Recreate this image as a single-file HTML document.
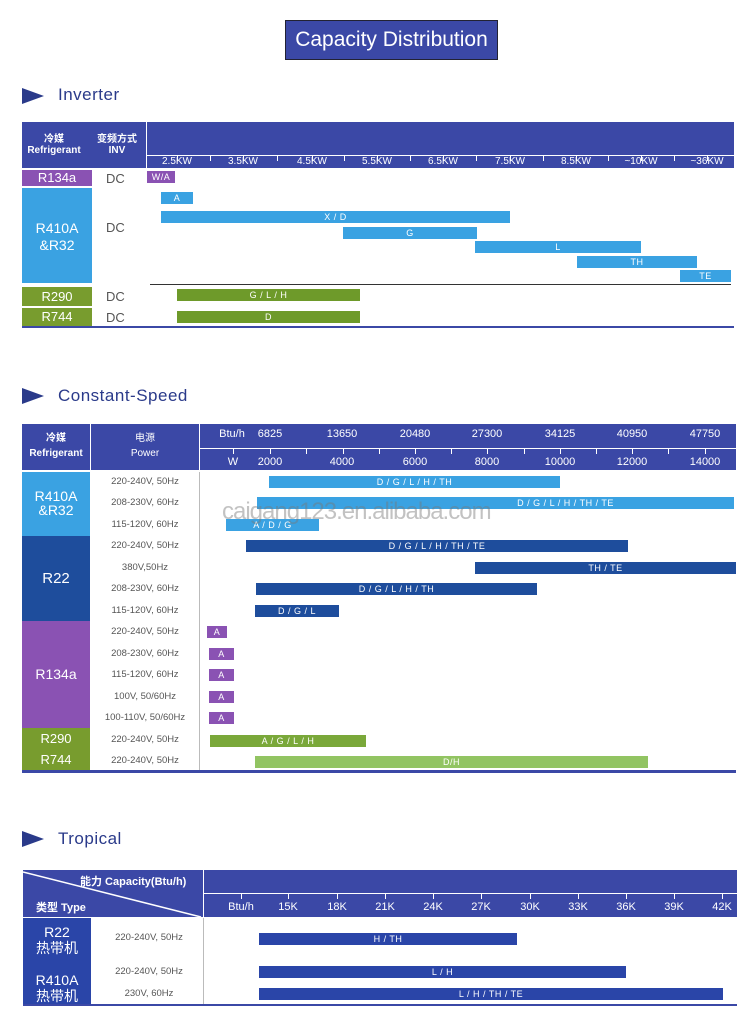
<!DOCTYPE html>
<html><head><meta charset="utf-8"><style>
body{margin:0;width:750px;height:1027px;background:#fff;position:relative;overflow:hidden;font-family:"Liberation Sans","Noto Sans CJK SC",sans-serif}
div{position:absolute;box-sizing:border-box}
.h{background:#3b48a6}
.t{color:#fff;font-size:10px;text-align:center;white-space:nowrap}
.b{color:#fff;font-size:9px;text-align:center;line-height:12px;white-space:nowrap;letter-spacing:.5px}
.sec{font-size:17px;color:#2a3a8a;letter-spacing:.5px}
.tri{width:0;height:0;border-top:8px solid transparent;border-bottom:8px solid transparent;border-left:22px solid #2a3a8a}
.pw{font-size:9.5px;color:#555;text-align:center;width:108px}
.tk{width:1px;height:6px;background:#fff}
</style></head><body>
<div style="left:285px;top:20px;width:213px;height:40px;background:#3b48a6;border:1px solid #223;color:#fff;font-size:21px;line-height:38px;text-align:center">Capacity Distribution</div>

<div class="tri" style="left:22px;top:88px"></div>
<div class="sec" style="left:58px;top:85px">Inverter</div>
<div class="h" style="left:22px;top:122px;width:712px;height:46px"></div>
<div style="left:146px;top:122px;width:1px;height:46px;background:#fff"></div>
<div style="left:147px;top:155px;width:587px;height:1px;background:#fff"></div>
<div class="tk" style="left:177px;top:155px"></div><div class="tk" style="left:210px;top:155px"></div>
<div class="tk" style="left:243px;top:155px"></div><div class="tk" style="left:277px;top:155px"></div>
<div class="tk" style="left:312px;top:155px"></div><div class="tk" style="left:344px;top:155px"></div>
<div class="tk" style="left:377px;top:155px"></div><div class="tk" style="left:410px;top:155px"></div>
<div class="tk" style="left:443px;top:155px"></div><div class="tk" style="left:476px;top:155px"></div>
<div class="tk" style="left:510px;top:155px"></div><div class="tk" style="left:543px;top:155px"></div>
<div class="tk" style="left:576px;top:155px"></div><div class="tk" style="left:608px;top:155px"></div>
<div class="tk" style="left:641px;top:155px"></div><div class="tk" style="left:674px;top:155px"></div>
<div class="tk" style="left:707px;top:155px"></div>
<div class="t" style="left:24px;top:130px;width:60px;font-weight:bold">冷媒<br>Refrigerant</div>
<div class="t" style="left:90px;top:130px;width:54px;font-weight:bold">变频方式<br>INV</div>
<div class="t" style="left:155px;top:156px;width:44px">2.5KW</div>
<div class="t" style="left:221px;top:156px;width:44px">3.5KW</div>
<div class="t" style="left:290px;top:156px;width:44px">4.5KW</div>
<div class="t" style="left:355px;top:156px;width:44px">5.5KW</div>
<div class="t" style="left:421px;top:156px;width:44px">6.5KW</div>
<div class="t" style="left:488px;top:156px;width:44px">7.5KW</div>
<div class="t" style="left:554px;top:156px;width:44px">8.5KW</div>
<div class="t" style="left:619px;top:156px;width:44px">~10KW</div>
<div class="t" style="left:685px;top:156px;width:44px">~36KW</div>

<div style="left:22px;top:170px;width:70px;height:16px;background:#8a52b3;color:#fff;font-size:13px;text-align:center;line-height:16px">R134a</div>
<div style="left:22px;top:188px;width:70px;height:95px;background:#3aa2e2;color:#fff;font-size:14px;text-align:center;padding-top:32px;line-height:17px">R410A<br>&amp;R32</div>
<div style="left:22px;top:287px;width:70px;height:19px;background:#789c2e;color:#fff;font-size:13px;text-align:center;line-height:19px">R290</div>
<div style="left:22px;top:308px;width:70px;height:18px;background:#789c2e;color:#fff;font-size:13px;text-align:center;line-height:18px">R744</div>
<div style="left:106px;top:171px;font-size:13px;color:#555">DC</div>
<div style="left:106px;top:220px;font-size:13px;color:#555">DC</div>
<div style="left:106px;top:289px;font-size:13px;color:#555">DC</div>
<div style="left:106px;top:310px;font-size:13px;color:#555">DC</div>
<div class="b" style="left:147px;top:171px;width:28px;background:#8a52b3">W/A</div>
<div class="b" style="left:161px;top:192px;width:32px;background:#3aa2e2">A</div>
<div class="b" style="left:161px;top:211px;width:349px;background:#3aa2e2">X / D</div>
<div class="b" style="left:343px;top:227px;width:134px;background:#3aa2e2">G</div>
<div class="b" style="left:475px;top:241px;width:166px;background:#3aa2e2">L</div>
<div class="b" style="left:577px;top:256px;width:120px;background:#3aa2e2">TH</div>
<div class="b" style="left:680px;top:270px;width:51px;background:#3aa2e2">TE</div>
<div style="left:150px;top:284px;width:581px;height:1px;background:#333"></div>
<div class="b" style="left:177px;top:289px;width:183px;background:#6e9a2a">G / L / H</div>
<div class="b" style="left:177px;top:311px;width:183px;background:#6e9a2a">D</div>
<div style="left:22px;top:326px;width:712px;height:2px;background:#3b48a6"></div>

<div class="tri" style="left:22px;top:388px"></div>
<div class="sec" style="left:58px;top:386px">Constant-Speed</div>
<div class="h" style="left:22px;top:424px;width:714px;height:46px"></div>
<div style="left:90px;top:424px;width:1px;height:46px;background:#fff"></div>
<div style="left:199px;top:424px;width:1px;height:46px;background:#fff"></div>
<div style="left:200px;top:448px;width:536px;height:1px;background:#fff"></div>
<div class="tk" style="left:233px;top:448px"></div><div class="tk" style="left:270px;top:448px"></div>
<div class="tk" style="left:306px;top:448px"></div><div class="tk" style="left:343px;top:448px"></div>
<div class="tk" style="left:379px;top:448px"></div><div class="tk" style="left:415px;top:448px"></div>
<div class="tk" style="left:451px;top:448px"></div><div class="tk" style="left:487px;top:448px"></div>
<div class="tk" style="left:524px;top:448px"></div><div class="tk" style="left:560px;top:448px"></div>
<div class="tk" style="left:596px;top:448px"></div><div class="tk" style="left:632px;top:448px"></div>
<div class="tk" style="left:668px;top:448px"></div><div class="tk" style="left:705px;top:448px"></div>
<div class="t" style="left:22px;top:431px;width:68px;font-weight:bold;line-height:15px">冷媒<br>Refrigerant</div>
<div class="t" style="left:91px;top:431px;width:108px;line-height:15px">电源<br>Power</div>
<div class="t" style="left:212px;top:428px;width:40px;font-size:11px">Btu/h</div>
<div class="t" style="left:250px;top:428px;width:40px;font-size:11px">6825</div>
<div class="t" style="left:322px;top:428px;width:40px;font-size:11px">13650</div>
<div class="t" style="left:395px;top:428px;width:40px;font-size:11px">20480</div>
<div class="t" style="left:467px;top:428px;width:40px;font-size:11px">27300</div>
<div class="t" style="left:540px;top:428px;width:40px;font-size:11px">34125</div>
<div class="t" style="left:612px;top:428px;width:40px;font-size:11px">40950</div>
<div class="t" style="left:685px;top:428px;width:40px;font-size:11px">47750</div>
<div class="t" style="left:223px;top:456px;width:20px;font-size:11px">W</div>
<div class="t" style="left:250px;top:456px;width:40px;font-size:11px">2000</div>
<div class="t" style="left:322px;top:456px;width:40px;font-size:11px">4000</div>
<div class="t" style="left:395px;top:456px;width:40px;font-size:11px">6000</div>
<div class="t" style="left:467px;top:456px;width:40px;font-size:11px">8000</div>
<div class="t" style="left:540px;top:456px;width:40px;font-size:11px">10000</div>
<div class="t" style="left:612px;top:456px;width:40px;font-size:11px">12000</div>
<div class="t" style="left:685px;top:456px;width:40px;font-size:11px">14000</div>

<div style="left:22px;top:472px;width:68px;height:64px;background:#3aa2e2;color:#fff;font-size:14px;text-align:center;padding-top:17px;line-height:14px">R410A<br>&amp;R32</div>
<div style="left:22px;top:536px;width:68px;height:85px;background:#1e4d9c;color:#fff;font-size:15px;text-align:center;line-height:85px">R22</div>
<div style="left:22px;top:621px;width:68px;height:107px;background:#8a52b3;color:#fff;font-size:14px;text-align:center;line-height:107px">R134a</div>
<div style="left:22px;top:728px;width:68px;height:43px;background:#789c2e;color:#fff;font-size:13px;text-align:center;line-height:21px">R290<br>R744</div>
<div style="left:199px;top:472px;width:1px;height:299px;background:#bbb"></div>
<div class="pw" style="left:91px;top:476px">220-240V, 50Hz</div>
<div class="pw" style="left:91px;top:497px">208-230V, 60Hz</div>
<div class="pw" style="left:91px;top:519px">115-120V, 60Hz</div>
<div class="pw" style="left:91px;top:540px">220-240V, 50Hz</div>
<div class="pw" style="left:91px;top:562px">380V,50Hz</div>
<div class="pw" style="left:91px;top:583px">208-230V, 60Hz</div>
<div class="pw" style="left:91px;top:605px">115-120V, 60Hz</div>
<div class="pw" style="left:91px;top:626px">220-240V, 50Hz</div>
<div class="pw" style="left:91px;top:648px">208-230V, 60Hz</div>
<div class="pw" style="left:91px;top:669px">115-120V, 60Hz</div>
<div class="pw" style="left:91px;top:691px">100V, 50/60Hz</div>
<div class="pw" style="left:91px;top:712px">100-110V, 50/60Hz</div>
<div class="pw" style="left:91px;top:734px">220-240V, 50Hz</div>
<div class="pw" style="left:91px;top:755px">220-240V, 50Hz</div>

<div class="b" style="left:269px;top:476px;width:291px;background:#3aa2e2">D / G / L / H / TH</div>
<div class="b" style="left:257px;top:497px;width:477px;background:#3aa2e2;padding-left:140px">D / G / L / H / TH / TE</div>
<div class="b" style="left:226px;top:519px;width:93px;background:#3aa2e2">A / D / G</div>
<div class="b" style="left:246px;top:540px;width:382px;background:#1e4d9c">D / G / L / H / TH / TE</div>
<div class="b" style="left:475px;top:562px;width:261px;background:#1e4d9c">TH / TE</div>
<div class="b" style="left:256px;top:583px;width:281px;background:#1e4d9c">D / G / L / H / TH</div>
<div class="b" style="left:255px;top:605px;width:84px;background:#1e4d9c">D / G / L</div>
<div class="b" style="left:207px;top:626px;width:20px;background:#8a52b3">A</div>
<div class="b" style="left:209px;top:648px;width:25px;background:#8a52b3">A</div>
<div class="b" style="left:209px;top:669px;width:25px;background:#8a52b3">A</div>
<div class="b" style="left:209px;top:691px;width:25px;background:#8a52b3">A</div>
<div class="b" style="left:209px;top:712px;width:25px;background:#8a52b3">A</div>
<div class="b" style="left:210px;top:735px;width:156px;background:#7aa83a">A / G / L / H</div>
<div class="b" style="left:255px;top:756px;width:393px;background:#92c462">D/H</div>
<div style="left:22px;top:770px;width:714px;height:3px;background:#3b48a6"></div>
<div style="left:222px;top:498px;font-size:24px;color:rgba(120,120,120,.45);white-space:nowrap;letter-spacing:-1px">caigang123.en.alibaba.com</div>

<div class="tri" style="left:22px;top:831px"></div>
<div class="sec" style="left:58px;top:829px">Tropical</div>
<div class="h" style="left:23px;top:870px;width:714px;height:47px;overflow:hidden"></div>
<svg style="position:absolute;left:23px;top:870px" width="180" height="47"><line x1="0" y1="2" x2="178" y2="47" stroke="#fff" stroke-width="1.5"/></svg>
<div style="left:203px;top:870px;width:1px;height:47px;background:#fff"></div>
<div style="left:204px;top:893px;width:533px;height:1px;background:#fff"></div>
<div class="tk" style="left:241px;top:893px"></div><div class="tk" style="left:288px;top:893px"></div>
<div class="tk" style="left:337px;top:893px"></div><div class="tk" style="left:385px;top:893px"></div>
<div class="tk" style="left:433px;top:893px"></div><div class="tk" style="left:481px;top:893px"></div>
<div class="tk" style="left:530px;top:893px"></div><div class="tk" style="left:578px;top:893px"></div>
<div class="tk" style="left:626px;top:893px"></div><div class="tk" style="left:674px;top:893px"></div>
<div class="tk" style="left:722px;top:893px"></div>
<div class="t" style="left:80px;top:873px;font-weight:bold;font-size:11px">能力 Capacity(Btu/h)</div>
<div class="t" style="left:36px;top:899px;font-weight:bold;font-size:11px">类型 Type</div>
<div class="t" style="left:221px;top:901px;width:40px;font-size:11px">Btu/h</div>
<div class="t" style="left:273px;top:901px;width:30px;font-size:11px">15K</div>
<div class="t" style="left:322px;top:901px;width:30px;font-size:11px">18K</div>
<div class="t" style="left:370px;top:901px;width:30px;font-size:11px">21K</div>
<div class="t" style="left:418px;top:901px;width:30px;font-size:11px">24K</div>
<div class="t" style="left:466px;top:901px;width:30px;font-size:11px">27K</div>
<div class="t" style="left:515px;top:901px;width:30px;font-size:11px">30K</div>
<div class="t" style="left:563px;top:901px;width:30px;font-size:11px">33K</div>
<div class="t" style="left:611px;top:901px;width:30px;font-size:11px">36K</div>
<div class="t" style="left:659px;top:901px;width:30px;font-size:11px">39K</div>
<div class="t" style="left:707px;top:901px;width:30px;font-size:11px">42K</div>
<div style="left:23px;top:918px;width:68px;height:87px;background:#2a45a8;color:#fff;font-size:14px;text-align:center;line-height:16px;padding-top:6px">R22<br>热带机<br><br>R410A<br>热带机</div>
<div style="left:203px;top:918px;width:1px;height:87px;background:#bbb"></div>
<div class="pw" style="left:95px;top:932px">220-240V, 50Hz</div>
<div class="pw" style="left:95px;top:966px">220-240V, 50Hz</div>
<div class="pw" style="left:95px;top:988px">230V, 60Hz</div>
<div class="b" style="left:259px;top:933px;width:258px;background:#2a45a8">H / TH</div>
<div class="b" style="left:259px;top:966px;width:367px;background:#2a45a8">L / H</div>
<div class="b" style="left:259px;top:988px;width:464px;background:#2a45a8">L / H / TH / TE</div>
<div style="left:23px;top:1004px;width:714px;height:2px;background:#3b48a6"></div>
</body></html>
